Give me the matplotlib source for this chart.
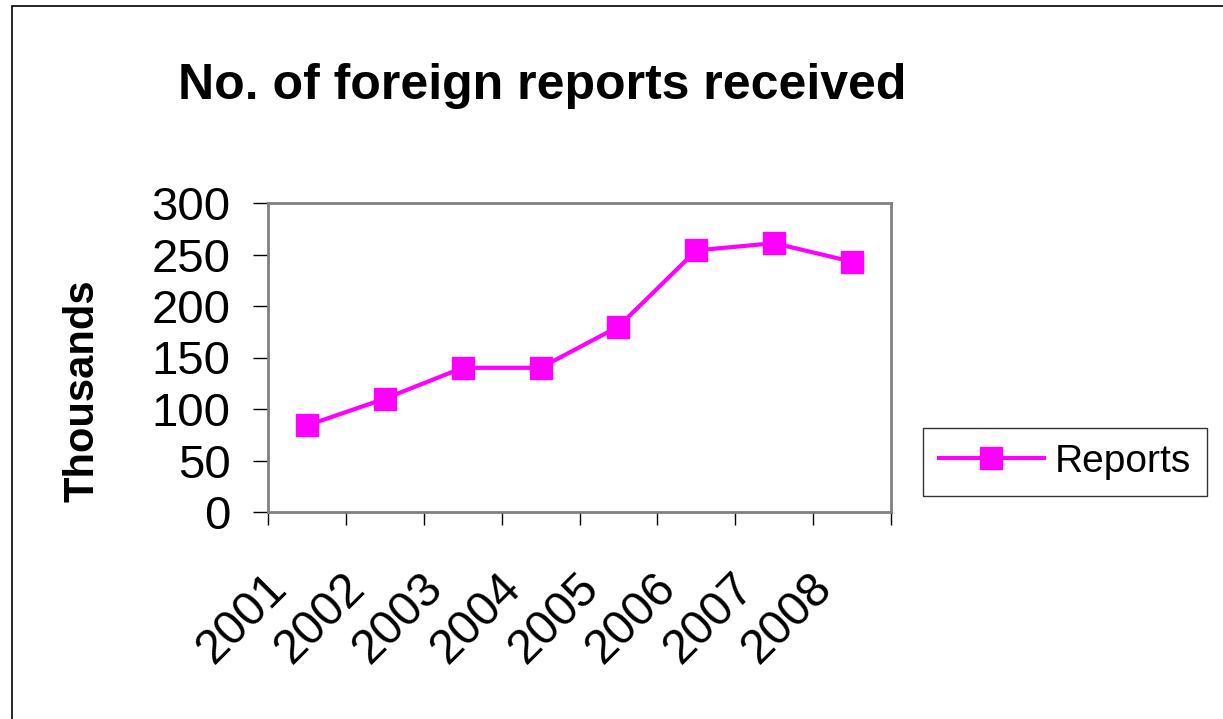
import matplotlib.pyplot as plt
import matplotlib.patches as patches
from matplotlib.transforms import ScaledTranslation

plt.rcParams['font.family'] = ['Liberation Sans', 'DejaVu Sans']

years = ['2001', '2002', '2003', '2004', '2005', '2006', '2007', '2008']
reports = [84, 110, 140, 140, 180, 254, 261, 243]
y_ticks = [0, 50, 100, 150, 200, 250, 300]

fig = plt.figure(figsize=(12.23, 7.19), dpi=100)

# outer chart border
fig.patches.append(patches.Rectangle((12 / 1223, -0.1), 1.2, 1.1 - 6 / 719,
                                     transform=fig.transFigure, fill=False,
                                     edgecolor='black', linewidth=1.2))

ax = fig.add_axes([268 / 1223, 1 - 512 / 719, 623 / 1223, 309 / 719])
x = list(range(1, len(years) + 1))
ax.plot(x, reports, color='#FF00FF', linewidth=3, marker='s', markersize=16,
        label='Reports')

ax.set_xlim(0.5, len(years) + 0.5)
ax.set_ylim(0, 300)
ax.set_yticks(y_ticks)
ax.set_xticks(x)
ax.set_xticklabels(years, rotation=45, ha='right', va='baseline',
                   rotation_mode='anchor')
ax.set_xticks([i + 0.5 for i in range(len(years) + 1)], minor=True)
ax.tick_params(axis='x', which='major', length=0, pad=56, labelsize=34.5)
ax.tick_params(axis='x', which='minor', length=9, width=1, color='black')
ax.tick_params(axis='y', length=11, width=1, color='black', pad=16, labelsize=34)

# shift the year labels a bit left, like the original
shift = ScaledTranslation(-18 / 100, 0, fig.dpi_scale_trans)
for lab in ax.get_xticklabels():
    lab.set_transform(lab.get_transform() + shift)

for s in ax.spines.values():
    s.set_color('#808080')
    s.set_linewidth(2)

fig.text(82 / 1223, 1 - 391 / 719, 'Thousands', rotation=90, fontsize=30,
         fontweight='bold', ha='center', va='center')

fig.text(542 / 1223, 1 - 86 / 719, 'No. of foreign reports received',
         fontsize=36, fontweight='bold', ha='center', va='center')

leg = fig.legend(loc='center left', bbox_to_anchor=(923 / 1223, 1 - 462 / 719),
                 fontsize=28, frameon=True, fancybox=False, borderpad=0.4,
                 handlelength=2.7, handletextpad=0.3, borderaxespad=0)
leg.get_frame().set_edgecolor('black')
leg.get_frame().set_linewidth(1)

fig.savefig('out.png', dpi=100)
